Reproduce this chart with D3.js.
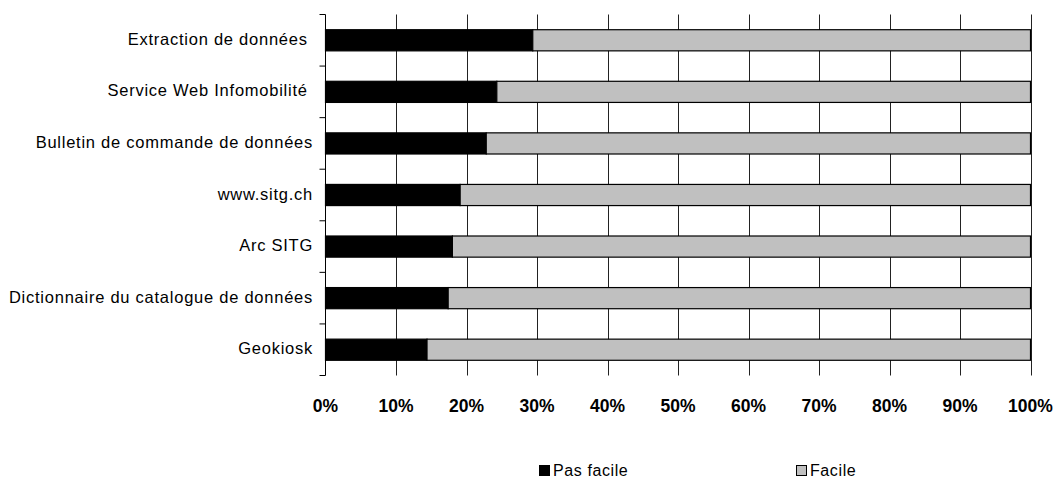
<!DOCTYPE html>
<html><head><meta charset="utf-8">
<script src="https://cdn.jsdelivr.net/npm/d3@7"></script>
<style>body{margin:0;background:#fff}svg{display:block}text{font-family:"Liberation Sans",Arial,sans-serif}</style>
</head><body><svg id="c" width="1056" height="481"></svg>
<script>
const categories = ["Extraction de données ","Service Web Infomobilité ","Bulletin de commande de données","www.sitg.ch","Arc SITG","Dictionnaire du catalogue de données","Geokiosk"];
const pasFacile = [29.4,24.3,22.8,19.1,18.0,17.4,14.4];
const facile = [70.6,75.7,77.2,80.9,82.0,82.6,85.6];
const seriesNames = ["Pas facile","Facile"];
const seriesColors = ["#000000","#C0C0C0"];
const xTicks = [0,10,20,30,40,50,60,70,80,90,100];

const svg = d3.select("#c");
const x = d3.scaleLinear().domain([0,100]).range([325.5,1030.5]);
const y = d3.scaleBand().domain(categories).range([14.5,375.5]).paddingInner(0.59).paddingOuter(0.295);
const step = y.step();

// gridlines
svg.append("g").selectAll("line").data(xTicks.filter(d=>d>0)).join("line")
  .attr("x1",d=>Math.round(x(d))+0.5).attr("x2",d=>Math.round(x(d))+0.5)
  .attr("y1",14.5).attr("y2",375.5).attr("stroke","#222").attr("stroke-width",1);

// bars
const rows = categories.map((c,i)=>({c, v:[pasFacile[i],facile[i]]}));
rows.forEach(r=>{
  let acc=0;
  r.v.forEach((v,j)=>{
    svg.append("rect").attr("x",x(acc)).attr("y",y(r.c)).attr("width",x(acc+v)-x(acc))
      .attr("height",y.bandwidth()).attr("fill",seriesColors[j]).attr("stroke","#000").attr("stroke-width",1.2);
    acc+=v;
  });
});

// left axis
const ax = svg.append("g");
ax.append("line").attr("x1",325.5).attr("x2",325.5).attr("y1",14.5).attr("y2",375.5).attr("stroke","#000");
d3.range(categories.length+1).forEach(i=>{
  const yy = 14.5 + i*step;
  ax.append("line").attr("x1",319.5).attr("x2",325.5).attr("y1",yy).attr("y2",yy).attr("stroke","#000");
});
ax.selectAll("text.cat").data(categories).join("text").attr("class","cat")
  .attr("x",313).attr("y",d=>y(d)+y.bandwidth()/2+4.5)
  .attr("text-anchor","end").attr("font-size","16.5px").attr("letter-spacing","0.75px")
  .style("white-space","pre").attr("fill","#000").text(d=>d);

// x tick labels
svg.append("g").selectAll("text").data(xTicks).join("text")
  .attr("x",d=>x(d)).attr("y",412).attr("text-anchor","middle")
  .attr("font-size","17.5px").attr("font-weight","bold").attr("fill","#000").text(d=>d+"%");

// legend
const legX = [539,796];
seriesNames.forEach((n,i)=>{
  svg.append("rect").attr("x",legX[i]+0.5).attr("y",465.5).attr("width",10).attr("height",10)
    .attr("fill",seriesColors[i]).attr("stroke","#000").attr("stroke-width",1);
  svg.append("text").attr("x",legX[i]+14).attr("y",476).attr("font-size","16px").attr("letter-spacing","0.6px")
    .attr("fill","#000").text(n);
});
</script></body></html>
